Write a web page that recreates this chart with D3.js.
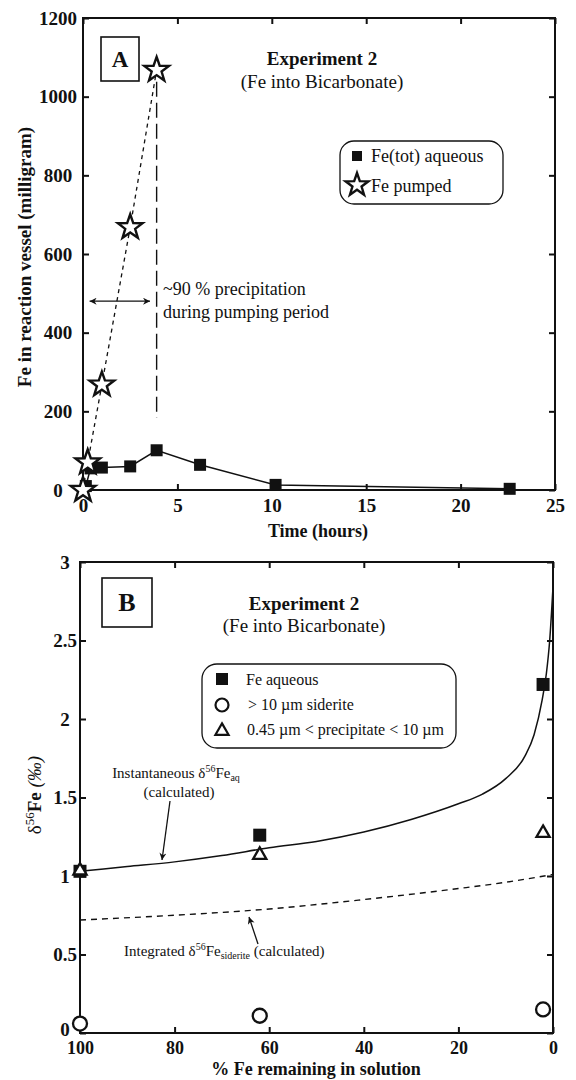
<!DOCTYPE html>
<html>
<head>
<meta charset="utf-8">
<script src="https://cdn.jsdelivr.net/npm/d3@7"></script>
<style>
  html, body { margin: 0; padding: 0; background: #fff; }
  svg { display: block; font-family: "Liberation Serif", "Times New Roman", serif; }
  text { font-family: "Liberation Serif", "Times New Roman", serif; fill: #111; }
</style>
</head>
<body>
<svg id="chart" width="576" height="1080"></svg>
<script>
// ---------- Panel A: Fe in reaction vessel vs time ----------
const pumpTime = [0, 0.25, 1, 2.5, 3.9];
const pumpFe   = [0, 70, 268, 668, 1068];
const aqTime   = [0.15, 0.4, 1.0, 2.5, 3.9, 6.2, 10.2, 22.6];
const aqFe     = [10, 55, 57, 60, 101, 64, 13, 3];
const timeTicks = [0, 5, 10, 15, 20, 25];
const feTicks   = [0, 200, 400, 600, 800, 1000, 1200];
const pumpEndTime = 3.9;

// ---------- Panel B: δ56Fe vs % Fe remaining ----------
const remain   = [100, 62, 2.1];
const feAqB    = [1.03, 1.26, 2.22];
const siderite = [0.06, 0.11, 0.15];
const precip   = [1.04, 1.14, 1.28];
const instF = [100, 90, 80, 70, 60, 50, 40, 30, 20, 15, 10, 6, 4, 2.3, 1.4, 0.7, 0];
const instD = [1.03, 1.06, 1.09, 1.13, 1.18, 1.22, 1.28, 1.36, 1.46, 1.52, 1.62, 1.76, 1.90, 2.12, 2.29, 2.50, 2.84];
const intF  = [100, 80, 60, 40, 20, 10, 0];
const intD  = [0.72, 0.75, 0.79, 0.85, 0.92, 0.96, 1.01];
const remainTicks = [100, 80, 60, 40, 20, 0];
const deltaTicks  = [0, 0.5, 1, 1.5, 2, 2.5, 3];

const svg = d3.select("#chart");
const INK = "#111";

const defs = svg.append("defs");
defs.append("marker")
  .attr("id", "head").attr("viewBox", "0 0 10 10")
  .attr("refX", 10).attr("refY", 5)
  .attr("markerWidth", 11).attr("markerHeight", 7)
  .attr("markerUnits", "userSpaceOnUse")
  .attr("orient", "auto-start-reverse")
  .append("path").attr("d", "M0,0 L10,5 L0,10 L3,5 Z").attr("fill", INK);

function starPath(R, r) {
  const pts = [];
  for (let i = 0; i < 10; i++) {
    const a = -Math.PI / 2 + i * Math.PI / 5;
    const rr = i % 2 === 0 ? R : r;
    pts.push([rr * Math.cos(a), rr * Math.sin(a)]);
  }
  return "M" + pts.map(p => p.join(",")).join("L") + "Z";
}

// Frame with inward ticks on all four sides
function frame(g, x, y, xt, yt, xfmt, yfmt, opts) {
  const [x0, x1] = x.range();
  const [y0, y1] = y.range();
  const left = Math.min(x0, x1), right = Math.max(x0, x1);
  const top = Math.min(y0, y1), bottom = Math.max(y0, y1);

  const styleAxis = sel => {
    sel.attr("font-family", null);
    sel.select(".domain").remove();
    sel.selectAll(".tick line").attr("stroke", INK).attr("stroke-width", 2);
  };
  g.append("g").attr("transform", `translate(0,${bottom})`)
    .call(d3.axisBottom(x).tickValues(xt).tickSizeInner(-6).tickSizeOuter(0)
      .tickPadding(opts.xPad).tickFormat(xfmt))
    .call(styleAxis)
    .call(s => s.selectAll("text").attr("font-size", opts.xFont).attr("font-weight", "bold").attr("fill", INK));
  g.append("g").attr("transform", `translate(0,${top})`)
    .call(d3.axisTop(x).tickValues(xt).tickSizeInner(-6).tickSizeOuter(0).tickFormat(""))
    .call(styleAxis);
  g.append("g").attr("transform", `translate(${left},0)`)
    .call(d3.axisLeft(y).tickValues(yt).tickSizeInner(-6).tickSizeOuter(0).tickFormat(yfmt))
    .call(styleAxis)
    .call(s => s.selectAll("text").attr("font-size", 19).attr("font-weight", "bold").attr("fill", INK)
      .attr("text-anchor", "middle").attr("x", -opts.yLab)
      .attr("dy", d => (d === 0 ? opts.zeroDy : "0.32em")));
  g.append("g").attr("transform", `translate(${right},0)`)
    .call(d3.axisRight(y).tickValues(yt).tickSizeInner(-6).tickSizeOuter(0).tickFormat(""))
    .call(styleAxis);
  g.append("rect").attr("x", left).attr("y", top)
    .attr("width", right - left).attr("height", bottom - top)
    .attr("fill", "none").attr("stroke", INK).attr("stroke-width", 2);
}

// ================= Panel A =================
const gA = svg.append("g");
const xA = d3.scaleLinear().domain([0, 25]).range([83, 555]);
const yA = d3.scaleLinear().domain([0, 1200]).range([490, 18]);

frame(gA, xA, yA, timeTicks, feTicks, d3.format("d"), d3.format("d"),
  { xPad: 9, xFont: 19, yLab: 25, zeroDy: "0.32em" });

// end-of-pumping marker
gA.append("line")
  .attr("x1", xA(pumpEndTime)).attr("x2", xA(pumpEndTime))
  .attr("y1", yA(1038)).attr("y2", yA(183))
  .attr("stroke", INK).attr("stroke-width", 1.4).attr("stroke-dasharray", "15,6");

// pumping-period arrow
gA.append("line")
  .attr("x1", xA(0.35)).attr("x2", xA(3.55))
  .attr("y1", yA(480)).attr("y2", yA(480))
  .attr("stroke", INK).attr("stroke-width", 1.3)
  .attr("marker-start", "url(#head)").attr("marker-end", "url(#head)");

const noteA = gA.append("text").attr("font-size", 18);
noteA.append("tspan").attr("x", 163).attr("y", 295).text("~90 % precipitation");
noteA.append("tspan").attr("x", 163).attr("y", 318).text("during pumping period");

// Fe pumped line + aqueous line
gA.append("path")
  .attr("d", d3.line().x(i => xA(pumpTime[i])).y(i => yA(pumpFe[i]))(d3.range(pumpTime.length)))
  .attr("fill", "none").attr("stroke", INK).attr("stroke-width", 1.3).attr("stroke-dasharray", "4,4");
gA.append("path")
  .attr("d", d3.line().x(i => xA(aqTime[i])).y(i => yA(aqFe[i]))(d3.range(aqTime.length)))
  .attr("fill", "none").attr("stroke", INK).attr("stroke-width", 1.5);

const sqA = 12;
gA.selectAll("rect.aq").data(d3.range(aqTime.length)).join("rect")
  .attr("class", "aq")
  .attr("x", i => xA(aqTime[i]) - sqA / 2).attr("y", i => yA(aqFe[i]) - sqA / 2)
  .attr("width", sqA).attr("height", sqA).attr("fill", INK);

gA.selectAll("path.star").data(d3.range(pumpTime.length)).join("path")
  .attr("class", "star")
  .attr("transform", i => `translate(${xA(pumpTime[i])},${yA(pumpFe[i])})`)
  .attr("d", starPath(13, 5.2))
  .attr("fill", "#fff").attr("stroke", INK).attr("stroke-width", 2.4).attr("stroke-linejoin", "miter");

// panel label
gA.append("rect").attr("x", 101).attr("y", 37).attr("width", 38).attr("height", 44)
  .attr("fill", "#fff").attr("stroke", INK).attr("stroke-width", 1.6);
gA.append("text").attr("x", 120).attr("y", 67).attr("text-anchor", "middle")
  .attr("font-size", 23).attr("font-weight", "bold").text("A");

// heading
gA.append("text").attr("x", 322).attr("y", 65).attr("text-anchor", "middle")
  .attr("font-size", 19).attr("font-weight", "bold").text("Experiment 2");
gA.append("text").attr("x", 322).attr("y", 88).attr("text-anchor", "middle")
  .attr("font-size", 19).text("(Fe into Bicarbonate)");

// legend
gA.append("rect").attr("x", 340).attr("y", 141).attr("width", 163).attr("height", 63)
  .attr("rx", 14).attr("fill", "#fff").attr("stroke", INK).attr("stroke-width", 1.3);
gA.append("rect").attr("x", 352).attr("y", 151).attr("width", 10).attr("height", 10).attr("fill", INK);
gA.append("text").attr("x", 371).attr("y", 162).attr("font-size", 18).text("Fe(tot) aqueous");
gA.append("path").attr("transform", "translate(357,185)").attr("d", starPath(12, 4.8))
  .attr("fill", "#fff").attr("stroke", INK).attr("stroke-width", 2.4);
gA.append("text").attr("x", 371).attr("y", 192).attr("font-size", 18).text("Fe pumped");

// axis titles
gA.append("text").attr("x", 318).attr("y", 537).attr("text-anchor", "middle")
  .attr("font-size", 18).attr("font-weight", "bold").text("Time (hours)");
gA.append("text").attr("transform", "translate(31,257) rotate(-90)").attr("text-anchor", "middle")
  .attr("font-size", 19).attr("font-weight", "bold").text("Fe in reaction vessel (milligram)");

// ================= Panel B =================
const gB = svg.append("g");
const xB = d3.scaleLinear().domain([100, 0]).range([80, 553]);
const yB = d3.scaleLinear().domain([0, 3]).range([1033, 562]);

frame(gB, xB, yB, remainTicks, deltaTicks, d3.format("d"), d => String(d),
  { xPad: 8, xFont: 18, yLab: 15, zeroDy: "0.12em" });

// model curves
gB.append("path")
  .attr("d", d3.line().curve(d3.curveMonotoneX)
    .x(i => xB(instF[i])).y(i => yB(instD[i]))(d3.range(instF.length)))
  .attr("fill", "none").attr("stroke", INK).attr("stroke-width", 1.5);
gB.append("path")
  .attr("d", d3.line().curve(d3.curveMonotoneX)
    .x(i => xB(intF[i])).y(i => yB(intD[i]))(d3.range(intF.length)))
  .attr("fill", "none").attr("stroke", INK).attr("stroke-width", 1.4).attr("stroke-dasharray", "6,5");

// measured points
const sqB = 13;
gB.selectAll("rect.aq").data(d3.range(remain.length)).join("rect")
  .attr("class", "aq")
  .attr("x", i => xB(remain[i]) - sqB / 2).attr("y", i => yB(feAqB[i]) - sqB / 2)
  .attr("width", sqB).attr("height", sqB).attr("fill", INK);
gB.selectAll("circle.sid").data(d3.range(remain.length)).join("circle")
  .attr("class", "sid")
  .attr("cx", i => xB(remain[i])).attr("cy", i => yB(siderite[i])).attr("r", 7)
  .attr("fill", "#fff").attr("stroke", INK).attr("stroke-width", 2.3);
const tri = d3.symbol().type(d3.symbolTriangle).size(75);
gB.selectAll("path.tri").data(d3.range(remain.length)).join("path")
  .attr("class", "tri")
  .attr("transform", i => `translate(${xB(remain[i])},${yB(precip[i]) + 1})`)
  .attr("d", tri()).attr("fill", "#fff").attr("stroke", INK).attr("stroke-width", 2.3);

// panel label
gB.append("rect").attr("x", 102).attr("y", 578).attr("width", 50).attr("height", 49)
  .attr("fill", "#fff").attr("stroke", INK).attr("stroke-width", 1.6);
gB.append("text").attr("x", 127).attr("y", 611).attr("text-anchor", "middle")
  .attr("font-size", 26).attr("font-weight", "bold").text("B");

// heading
gB.append("text").attr("x", 304).attr("y", 610).attr("text-anchor", "middle")
  .attr("font-size", 19).attr("font-weight", "bold").text("Experiment 2");
gB.append("text").attr("x", 304).attr("y", 632).attr("text-anchor", "middle")
  .attr("font-size", 19).text("(Fe into Bicarbonate)");

// legend
gB.append("rect").attr("x", 202).attr("y", 664).attr("width", 254).attr("height", 84)
  .attr("rx", 15).attr("fill", "#fff").attr("stroke", INK).attr("stroke-width", 1.3);
gB.append("rect").attr("x", 216).attr("y", 673).attr("width", 12).attr("height", 12).attr("fill", INK);
gB.append("text").attr("x", 246).attr("y", 685).attr("font-size", 16).text("Fe aqueous");
gB.append("circle").attr("cx", 222).attr("cy", 705).attr("r", 6.5)
  .attr("fill", "#fff").attr("stroke", INK).attr("stroke-width", 2.2);
gB.append("text").attr("x", 248).attr("y", 710).attr("font-size", 16).text("> 10 \u00b5m siderite");
gB.append("path").attr("transform", "translate(222,731)").attr("d", tri())
  .attr("fill", "#fff").attr("stroke", INK).attr("stroke-width", 2.2);
gB.append("text").attr("x", 247).attr("y", 735).attr("font-size", 16)
  .text("0.45 \u00b5m < precipitate < 10 \u00b5m");

// curve annotations
const inst = gB.append("text").attr("x", 176).attr("y", 778).attr("text-anchor", "middle").attr("font-size", 15);
inst.append("tspan").text("Instantaneous \u03b4");
inst.append("tspan").attr("font-size", 10).attr("dy", -6).text("56");
inst.append("tspan").attr("dy", 6).text("Fe");
inst.append("tspan").attr("font-size", 10).attr("dy", 3).text("aq");
gB.append("text").attr("x", 179).attr("y", 797).attr("text-anchor", "middle").attr("font-size", 15).text("(calculated)");
gB.append("line").attr("x1", 170).attr("y1", 801).attr("x2", 162).attr("y2", 860)
  .attr("stroke", INK).attr("stroke-width", 1.3).attr("marker-end", "url(#head)");

const integ = gB.append("text").attr("x", 124).attr("y", 956).attr("font-size", 15);
integ.append("tspan").text("Integrated \u03b4");
integ.append("tspan").attr("font-size", 10).attr("dy", -6).text("56");
integ.append("tspan").attr("dy", 6).text("Fe");
integ.append("tspan").attr("font-size", 10).attr("dy", 3).text("siderite");
integ.append("tspan").attr("dy", -3).text(" (calculated)");
gB.append("line").attr("x1", 258).attr("y1", 944).attr("x2", 249).attr("y2", 917)
  .attr("stroke", INK).attr("stroke-width", 1.3).attr("marker-end", "url(#head)");

// axis titles
gB.append("text").attr("x", 316).attr("y", 1075).attr("text-anchor", "middle")
  .attr("font-size", 18).attr("font-weight", "bold").text("% Fe remaining in solution");
const yt = gB.append("text").attr("transform", "translate(41,795) rotate(-90)")
  .attr("text-anchor", "middle").attr("font-size", 19);
yt.append("tspan").text("\u03b4");
yt.append("tspan").attr("font-size", 13).attr("dy", -7).text("56");
yt.append("tspan").attr("dy", 7).attr("font-weight", "bold").text("Fe");
yt.append("tspan").attr("font-style", "italic").text(" (\u2030)");
</script>
</body>
</html>
